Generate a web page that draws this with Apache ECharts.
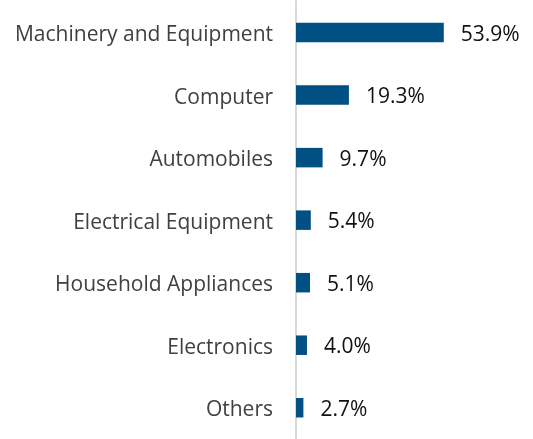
<!DOCTYPE html>
<html>
<head>
<meta charset="utf-8">
<script src="https://cdn.jsdelivr.net/npm/echarts@6/dist/echarts.min.js"></script>
<style>html,body{margin:0;padding:0;background:#fff;}#c{width:533px;height:439px;}</style>
</head>
<body>
<div id="c"></div>
<script>
const categories = ["Machinery and Equipment","Computer","Automobiles","Electrical Equipment","Household Appliances","Electronics","Others"];
const values = [53.9, 19.3, 9.7, 5.4, 5.1, 4.0, 2.7];

const chart = echarts.init(document.getElementById('c'), null, {renderer:'canvas'});
chart.setOption({
  animation: false,
  grid: { left: 296, top: 1.3, height: 443.4, width: 164.5 },
  xAxis: { type: 'value', min: 0, max: 60, show: false },
  yAxis: {
    type: 'category', data: categories, inverse: true,
    axisLine: { show: true, lineStyle: { color: '#d9d9d9', width: 2 } },
    axisTick: { show: false },
    axisLabel: {
      color: '#404040', fontFamily: 'Open Sans', fontSize: 21, margin: 23,
      formatter: v => '{a|' + v + '}',
      rich: { a: { color: '#404040', fontFamily: 'Open Sans', fontSize: 21, padding: [5, 0, 0, 0] } }
    },
    splitLine: { show: false }
  },
  series: [{
    type: 'bar', data: values, barWidth: 19.5,
    itemStyle: { color: '#005083' },
    label: { show: true, position: 'right', distance: 17, color: '#111', fontFamily: 'Open Sans', fontSize: 21,
      offset: [0, 2],
      formatter: p => p.value.toFixed(1) + '%' }
  }]
});
</script>
</body>
</html>
